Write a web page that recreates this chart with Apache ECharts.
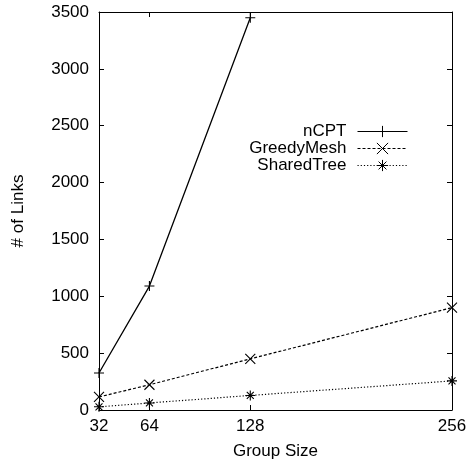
<!DOCTYPE html>
<html>
<head>
<meta charset="utf-8">
<script src="https://cdn.jsdelivr.net/npm/echarts@6/dist/echarts.min.js"></script>
<style>html,body{margin:0;padding:0;background:#fff}#c{width:470px;height:465px}</style>
</head>
<body>
<div id="c"></div>
<script>
const groupSizes = [32, 64, 128, 256];
const nCPT = [325, 1090, 3450];
const greedyMesh = [115, 222, 450, 900];
const sharedTree = [28, 62, 128, 256];
const yTicks = [0, 500, 1000, 1500, 2000, 2500, 3000, 3500];

const FONT = 'Liberation Sans, Arial, Helvetica, sans-serif';
const plus = 'path://M0,5L10,5M5,0L5,10';
const cross = 'path://M0,0L10,10M10,0L0,10';
const star = 'path://M0,5L10,5M5,0L5,10M1.5,1.5L8.5,8.5M8.5,1.5L1.5,8.5';

function pairs(vals) { return vals.map((v, i) => [groupSizes[i], v]); }

const chart = echarts.init(document.getElementById('c'), null, {renderer: 'canvas'});
const axisCommon = {
  axisLine: {show: true, onZero: false, lineStyle: {color: '#000', width: 1}},
  axisTick: {show: true, inside: true, length: 5, lineStyle: {color: '#000', width: 1}},
  splitLine: {show: false}
};
function sym(s) {
  return {
    symbol: s, symbolSize: 10, showSymbol: true,
    itemStyle: {color: '#000', borderColor: '#000', borderWidth: 1.1},
  };
}
const plain = v => String(v);
chart.setOption({
  animation: false,
  backgroundColor: '#fff',
  grid: {left: 99, right: 18, top: 12, bottom: 53},
  legend: {
    orient: 'vertical', right: 57, top: 118, align: 'right',
    itemWidth: 50, itemHeight: 14, itemGap: 0,
    textStyle: {fontFamily: FONT, fontSize: 17, color: '#000', padding: [0, 6, 0, 0], lineHeight: 17},
    lineStyle: {width: 1},
    itemStyle: {borderWidth: 1},
    data: ['nCPT', 'GreedyMesh', 'SharedTree']
  },
  xAxis: [
    Object.assign({}, axisCommon, {
      type: 'value', min: 32, max: 256, position: 'bottom',
      name: 'Group Size', nameLocation: 'middle', nameGap: 33,
      nameTextStyle: {fontFamily: FONT, fontSize: 17, color: '#000'},
      axisTick: Object.assign({}, axisCommon.axisTick, {customValues: groupSizes}),
      axisLabel: {customValues: groupSizes, formatter: plain, fontFamily: FONT, fontSize: 17, color: '#000', margin: 8}
    }),
    Object.assign({}, axisCommon, {
      type: 'value', min: 32, max: 256, position: 'top',
      axisTick: Object.assign({}, axisCommon.axisTick, {customValues: groupSizes}),
      axisLabel: {show: false}
    })
  ],
  yAxis: [
    Object.assign({}, axisCommon, {
      type: 'value', min: 0, max: 3500, interval: 500, position: 'left',
      name: '# of Links', nameLocation: 'middle', nameGap: 72, nameRotate: 90,
      nameTextStyle: {fontFamily: FONT, fontSize: 17, color: '#000'},
      axisTick: Object.assign({}, axisCommon.axisTick, {customValues: yTicks}),
      axisLabel: {customValues: yTicks, formatter: plain, fontFamily: FONT, fontSize: 17, color: '#000', margin: 10}
    }),
    Object.assign({}, axisCommon, {
      type: 'value', min: 0, max: 3500, interval: 500, position: 'right',
      axisTick: Object.assign({}, axisCommon.axisTick, {customValues: yTicks}),
      axisLabel: {show: false}
    })
  ],
  series: [
    Object.assign({name: 'nCPT', type: 'line', data: pairs(nCPT),
      lineStyle: {color: '#000', width: 1.3, type: 'solid'}}, sym(plus)),
    Object.assign({name: 'GreedyMesh', type: 'line', data: pairs(greedyMesh),
      lineStyle: {color: '#000', width: 1.2, type: [3, 2]}}, sym(cross)),
    Object.assign({name: 'SharedTree', type: 'line', data: pairs(sharedTree),
      lineStyle: {color: '#000', width: 1.2, type: [1.2, 2]}}, sym(star))
  ]
});
</script>
</body>
</html>
